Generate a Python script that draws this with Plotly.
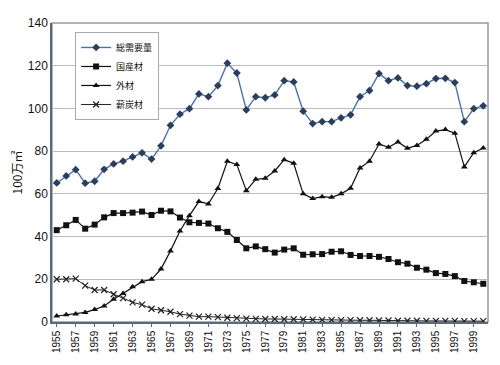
import plotly.graph_objects as go

years = list(range(1955, 2001))
year_labels = [str(y) for y in years]
tick_years = [str(y) for y in range(1955, 2000, 2)]

total = [65.1, 68.4, 71.3, 65.0, 65.9, 71.5, 74.0, 75.3, 77.3, 79.2, 76.3, 82.5,
         92.1, 97.3, 99.9, 106.8, 105.5, 110.7, 121.2, 116.6, 99.3, 105.5, 105.0,
         106.3, 113.0, 112.4, 98.7, 92.9, 93.8, 93.8, 95.6, 97.0, 105.5, 108.4,
         116.3, 113.0, 114.3, 110.7, 110.4, 111.6, 114.0, 114.1, 112.1, 93.8, 99.9, 101.2]
domestic = [43.0, 45.3, 47.8, 43.7, 45.6, 49.0, 51.0, 51.0, 51.2, 51.7, 50.1, 52.1,
            51.8, 48.9, 46.7, 46.4, 46.1, 43.9, 42.2, 38.4, 34.5, 35.4, 34.1,
            32.5, 33.9, 34.5, 31.5, 31.7, 31.8, 32.9, 33.1, 31.4, 30.9, 30.9,
            30.5, 29.5, 28.0, 27.3, 25.4, 24.5, 22.9, 22.5, 21.5, 19.2, 18.6, 17.9]
imported = [2.8, 3.4, 3.7, 4.5, 5.8, 7.5, 10.6, 13.4, 16.5, 18.9, 20.0, 24.8,
            33.3, 42.6, 49.8, 56.4, 55.3, 62.5, 75.3, 73.7, 61.5, 66.8, 67.3,
            70.7, 76.0, 74.3, 60.0, 57.8, 58.7, 58.4, 60.0, 62.6, 72.1, 75.3,
            83.4, 81.8, 84.3, 81.3, 82.7, 85.6, 89.4, 90.1, 88.4, 72.6, 79.3, 81.5]
fuelwood = [20.0, 20.0, 20.3, 17.0, 15.0, 15.0, 13.0, 11.2, 9.2, 8.1, 6.2, 5.5,
            4.8, 3.7, 3.0, 2.5, 2.5, 2.3, 2.0, 1.8, 1.6, 1.5, 1.4,
            1.4, 1.3, 1.3, 1.2, 1.1, 1.0, 1.0, 0.9, 0.9, 0.8, 0.8,
            0.7, 0.7, 0.6, 0.6, 0.6, 0.5, 0.5, 0.5, 0.5, 0.4, 0.4, 0.4]

names = ["総需要量", "国産材", "外材", "薪炭材"]

fig = go.Figure()
fig.add_trace(go.Scatter(x=year_labels, y=total, name=names[0], mode="lines+markers",
                         line=dict(color="#4a72a8", width=1.4),
                         marker=dict(symbol="diamond", size=6, color="#2c3e5e")))
fig.add_trace(go.Scatter(x=year_labels, y=domestic, name=names[1], mode="lines+markers",
                         line=dict(color="#111111", width=1.2),
                         marker=dict(symbol="square", size=6, color="#111111")))
fig.add_trace(go.Scatter(x=year_labels, y=imported, name=names[2], mode="lines+markers",
                         line=dict(color="#111111", width=1.2),
                         marker=dict(symbol="triangle-up", size=6, color="#111111")))
fig.add_trace(go.Scatter(x=year_labels, y=fuelwood, name=names[3], mode="lines+markers",
                         line=dict(color="#222222", width=1),
                         marker=dict(symbol="x-thin-open", size=6,
                                     line=dict(color="#222222", width=1.2))))

font_family = "Liberation Sans, Arial, Noto Sans CJK JP, sans-serif"

# page body has an 8px default margin, so the figure is shifted by 8px; compensate here
fig.update_layout(
    width=500, height=365,
    margin=dict(l=44, r=20, t=15, b=51, autoexpand=False),
    paper_bgcolor="white", plot_bgcolor="white",
    font=dict(family=font_family, size=11, color="#111111"),
    showlegend=True,
    legend=dict(x=0.053, y=0.97, xanchor="left", yanchor="top",
                bgcolor="white", bordercolor="#aaaaaa", borderwidth=1,
                font=dict(family="Noto Sans CJK JP, sans-serif", size=9),
                tracegroupgap=0, itemwidth=30),
    xaxis=dict(type="category", range=[-0.5, 45.5], automargin=False,
               tickmode="array", tickvals=tick_years, ticktext=tick_years,
               tickangle=-90, tickfont=dict(size=10, color="#111111"),
               showgrid=False, showline=True, linecolor="#5a6a80", linewidth=1.5,
               mirror=False, ticks="outside", ticklen=3, tickcolor="#5a6a80"),
    yaxis=dict(range=[0, 140], dtick=20, automargin=False,
               tickfont=dict(size=12, color="#111111"),
               showgrid=True, gridcolor="#bbbbbb", gridwidth=1,
               showline=True, linecolor="#5a6a80", linewidth=1.5, mirror=False,
               zeroline=False, ticks="", ticklen=0,
               title=dict(text="100万㎡", font=dict(family="Noto Sans CJK JP, sans-serif", size=12),
                          standoff=12)),
)
fig.add_shape(type="rect", xref="paper", yref="paper", x0=0, y0=0, x1=1, y1=1,
              line=dict(color="#999999", width=1.5), layer="below")

fig.write_html("out.html")
